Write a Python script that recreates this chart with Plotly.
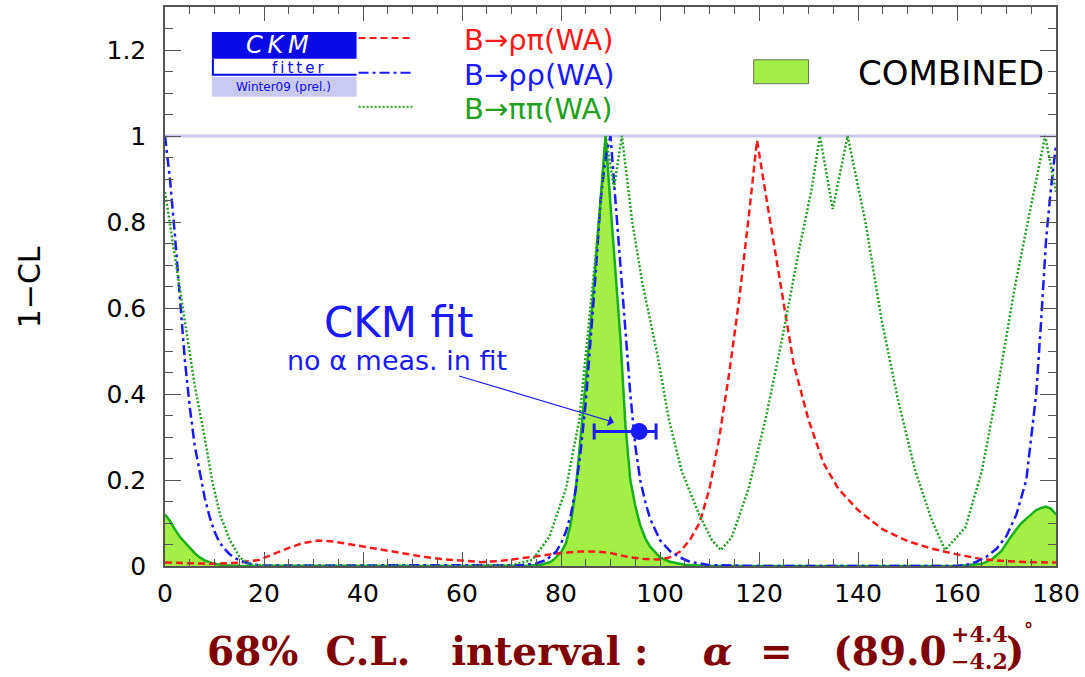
import plotly.graph_objects as go

# ---------------- data ----------------
# B -> rho pi (WA)
x_rhopi = [0, 5, 10, 15, 19, 22, 25, 28, 31, 34, 37, 40, 44, 48, 52, 56, 60, 64, 68, 72, 76, 80,
           84, 87, 90, 94, 97, 100, 102, 104, 106, 108, 110, 112, 114, 116, 118, 119.6, 121, 123,
           125, 127, 130, 133, 136, 140, 145, 150, 155, 160, 165, 170, 175, 180]
y_rhopi = [0.008, 0.006, 0.005, 0.008, 0.014, 0.028, 0.042, 0.054, 0.059, 0.057, 0.051, 0.045,
           0.037, 0.03, 0.022, 0.016, 0.012, 0.009, 0.012, 0.018, 0.025, 0.03, 0.034, 0.034, 0.03,
           0.02, 0.016, 0.015, 0.02, 0.033, 0.06, 0.1, 0.18, 0.3, 0.45, 0.62, 0.82, 0.99, 0.89,
           0.75, 0.6, 0.47, 0.34, 0.24, 0.18, 0.13, 0.085, 0.058, 0.04, 0.027, 0.016, 0.011, 0.009,
           0.008]

# B -> rho rho (WA)
x_rhorho = [0, 1, 2, 3, 4, 5, 6, 7, 8, 9, 10, 11, 12, 13, 14, 16, 18, 20, 70, 72, 75, 77, 79, 80,
            81, 82, 83, 84, 85, 86, 87, 88, 89, 90, 91, 92, 93, 94, 95, 96, 97, 98, 100, 102, 104,
            106, 110, 120, 160, 162, 164, 166, 168, 170, 172, 174, 175, 176, 177, 178, 179, 180]
y_rhorho = [1.0, 0.9, 0.77, 0.62, 0.48, 0.37, 0.28, 0.22, 0.16, 0.115, 0.08, 0.055, 0.04, 0.028,
            0.019, 0.009, 0.003, 0.001, 0.001, 0.002, 0.006, 0.014, 0.033, 0.052, 0.08, 0.12, 0.18,
            0.27, 0.38, 0.52, 0.68, 0.85, 0.95, 1.0, 0.85, 0.68, 0.53, 0.4, 0.28, 0.2, 0.15, 0.11,
            0.06, 0.035, 0.02, 0.01, 0.002, 0.0, 0.0, 0.003, 0.01, 0.022, 0.04, 0.07, 0.12, 0.2,
            0.3, 0.4, 0.57, 0.76, 0.88, 0.98]

# B -> pi pi (WA)
x_pipi = [0, 2, 4, 6, 8, 9.5, 11.1, 13.1, 15.1, 17, 20, 60, 70, 74.2, 77.6, 81, 83.7, 85.7, 87.1,
          88, 89, 90.7, 92.3, 94.4, 96.4, 99.5, 101.8, 104.4, 107.9, 110.5, 112.3, 114.5, 117.9,
          121.3, 124.7, 128, 130.7, 132.3, 134.9, 137.9, 141.5, 144.8, 148.2, 151.6, 154.9, 157.6,
          161.7, 165, 168.3, 171.7, 175, 177.8, 180]
y_pipi = [0.87, 0.72, 0.56, 0.42, 0.3, 0.2, 0.12, 0.06, 0.02, 0.004, 0.001, 0.0, 0.002, 0.014,
          0.067, 0.18, 0.34, 0.57, 0.73, 0.84, 1.0, 0.88, 1.0, 0.8, 0.66, 0.49, 0.34, 0.22, 0.12,
          0.06, 0.037, 0.067, 0.18, 0.34, 0.53, 0.73, 0.88, 1.0, 0.83, 1.0, 0.8, 0.57, 0.38, 0.22,
          0.107, 0.037, 0.09, 0.22, 0.42, 0.65, 0.84, 1.0, 0.87]

# COMBINED
x_comb = [0, 1, 2, 3, 4, 5, 6, 7, 8, 10, 12, 15, 20, 70, 73, 76, 78, 79, 80, 81, 82, 83, 84, 85,
          86, 87, 88, 89, 90, 91, 92, 93, 94, 95, 96, 97, 98, 100, 102, 105, 110, 160, 163, 165,
          167, 169, 171, 173, 175, 176, 177, 178, 179, 180]
y_comb = [0.12, 0.105, 0.085, 0.068, 0.055, 0.042, 0.03, 0.02, 0.013, 0.005, 0.002, 0.0005, 0.0,
          0.0, 0.0005, 0.003, 0.01, 0.02, 0.032, 0.053, 0.1, 0.18, 0.3, 0.43, 0.56, 0.7, 0.85, 1.0,
          0.84, 0.68, 0.53, 0.33, 0.2, 0.14, 0.095, 0.065, 0.045, 0.02, 0.01, 0.003, 0.0, 0.0,
          0.002, 0.005, 0.015, 0.035, 0.07, 0.1, 0.12, 0.13, 0.135, 0.138, 0.133, 0.12]

# CKM fit point (no alpha measurement in fit)
fit_x = [95.8]
fit_y = [0.313]
fit_err_minus = [9.1]
fit_err_plus = [3.4]

x_ticks = [0, 20, 40, 60, 80, 100, 120, 140, 160, 180]
y_ticks = [0, 0.2, 0.4, 0.6, 0.8, 1.0, 1.2]
y_ticklabels = ["0", "0.2", "0.4", "0.6", "0.8", "1", "1.2"]

legend_labels = ["B\u2192\u03c1\u03c0(WA)", "B\u2192\u03c1\u03c1(WA)", "B\u2192\u03c0\u03c0(WA)"]

# ---------------- styling ----------------
RED = "#ff1a1a"
BLUE = "#1a1aff"
GREEN_DOT = "#22a022"
GREEN_LINE = "#18b018"
FILL = "#a2f046"
LOGO_BLUE = "#0a0ae6"
LAVENDER = "#c9c9f2"
DARKRED = "#800000"
SANS = "DejaVu Sans"

L, R, T, B = 165, 27, 5, 111
W, H = 1085, 677
PW, PH = W - L - R, H - T - B


def PX(px):
    return (px - L) / PW


def PY(py):
    return (H - B - py) / PH


fig = go.Figure()

# unit line at 1
fig.add_trace(go.Scatter(x=[0, 180], y=[1, 1], mode="lines",
                         line=dict(color=LAVENDER, width=3), hoverinfo="skip", showlegend=False))

fig.add_trace(go.Scatter(x=x_comb, y=y_comb, mode="lines", fill="tozeroy", fillcolor=FILL,
                         line=dict(color=GREEN_LINE, width=2.5), showlegend=False))
fig.add_trace(go.Scatter(x=x_rhopi, y=y_rhopi, mode="lines",
                         line=dict(color=RED, width=2.5, dash="7px,4px"), showlegend=False))
fig.add_trace(go.Scatter(x=x_rhorho, y=y_rhorho, mode="lines",
                         line=dict(color=BLUE, width=2.5, dash="10px,4px,3px,4px"), showlegend=False))
fig.add_trace(go.Scatter(x=x_pipi, y=y_pipi, mode="lines",
                         line=dict(color=GREEN_DOT, width=2.5, dash="2px,2px"), showlegend=False))

fig.add_trace(go.Scatter(x=fit_x, y=fit_y, mode="markers",
                         marker=dict(color=BLUE, size=17, symbol="circle"),
                         error_x=dict(type="data", symmetric=False, array=fit_err_plus,
                                      arrayminus=fit_err_minus, color=BLUE, thickness=3, width=8),
                         showlegend=False))

shapes = []
annotations = []

# ---- CKMfitter logo ----
shapes.append(dict(type="rect", xref="paper", yref="paper", x0=PX(212), x1=PX(357),
                   y0=PY(57), y1=PY(30), fillcolor=LOGO_BLUE, line=dict(width=0)))
shapes.append(dict(type="rect", xref="paper", yref="paper", x0=PX(212), x1=PX(357),
                   y0=PY(95), y1=PY(75), fillcolor=LAVENDER, line=dict(width=0)))
shapes.append(dict(type="line", xref="paper", yref="paper", x0=PX(213), x1=PX(213),
                   y0=PY(73), y1=PY(57), line=dict(color=LOGO_BLUE, width=2)))
shapes.append(dict(type="line", xref="paper", yref="paper", x0=PX(212), x1=PX(357),
                   y0=PY(73), y1=PY(73), line=dict(color=LOGO_BLUE, width=2)))
annotations.append(dict(xref="paper", yref="paper", x=PX(278), y=PY(43),
                        text="<i>C\u2009K\u2009M</i>",
                        showarrow=False, xanchor="center", yanchor="middle",
                        font=dict(family=SANS, size=24, color="white")))
annotations.append(dict(xref="paper", yref="paper", x=PX(298), y=PY(66),
                        text="f\u2009i\u2009t\u2009t\u2009e\u2009r", showarrow=False,
                        xanchor="center", yanchor="middle",
                        font=dict(family=SANS, size=15, color=LOGO_BLUE)))
annotations.append(dict(xref="paper", yref="paper", x=PX(284), y=PY(85),
                        text="Winter09 (prel.)", showarrow=False, xanchor="center",
                        yanchor="middle", font=dict(family=SANS, size=12, color=LOGO_BLUE)))

# ---- legend ----
leg_rows = [(36, RED, "7px,4px"), (71, BLUE, "10px,4px,3px,4px"), (105, GREEN_DOT, "2px,2px")]
for (py, col, dsh), lab in zip(leg_rows, legend_labels):
    shapes.append(dict(type="line", xref="paper", yref="paper", x0=PX(359), x1=PX(413),
                       y0=PY(py), y1=PY(py), line=dict(color=col, width=2, dash=dsh)))
    annotations.append(dict(xref="paper", yref="paper", x=PX(463), y=PY(py + 2), text=lab,
                            showarrow=False, xanchor="left", yanchor="middle",
                            font=dict(family=SANS, size=29, color=col)))

shapes.append(dict(type="rect", xref="paper", yref="paper", x0=PX(755), x1=PX(810),
                   y0=PY(82), y1=PY(58), fillcolor=FILL, line=dict(color="#667755", width=1)))
annotations.append(dict(xref="paper", yref="paper", x=PX(858), y=PY(71), text="COMBINED",
                        showarrow=False, xanchor="left", yanchor="middle",
                        font=dict(family=SANS, size=34, color="black")))

# ---- CKM fit annotation ----
annotations.append(dict(xref="paper", yref="paper", x=PX(399), y=PY(322), text="CKM fit",
                        showarrow=False, xanchor="center", yanchor="middle",
                        font=dict(family=SANS, size=42, color=BLUE)))
annotations.append(dict(xref="paper", yref="paper", x=PX(398), y=PY(360),
                        text="no \u03b1 meas. in fit", showarrow=False, xanchor="center",
                        yanchor="middle", font=dict(family=SANS, size=27, color=BLUE)))
annotations.append(dict(xref="x", yref="y", x=90.7, y=0.334, ax=59.1, ay=0.443,
                        axref="x", ayref="y", text="", showarrow=True, arrowhead=1,
                        arrowsize=1.6, arrowwidth=1.2, arrowcolor=BLUE))

# ---- axis title ----
annotations.append(dict(xref="paper", yref="paper", x=PX(30), y=PY(286), text="1\u2212CL",
                        showarrow=False, textangle=-90, xanchor="center", yanchor="middle",
                        font=dict(family=SANS, size=30, color="black")))

# ---- bottom result text ----
SERIF = "DejaVu Serif"
NB = "\u00a0"
main_text = ("<b>68%" + NB * 2 + "C.L." + NB * 3 + "interval" + NB + ":" + NB * 4 +
             "<i>\u03b1</i>" + NB * 2 + "=" + NB * 3 + "(89.0</b>")
annotations.append(dict(xref="paper", yref="paper", x=PX(951), y=PY(651),
                        text=main_text,
                        showarrow=False, xanchor="right", yanchor="middle",
                        font=dict(family=SERIF, size=39, color=DARKRED)))
annotations.append(dict(xref="paper", yref="paper", x=PX(951), y=PY(634), text="<b>+4.4</b>",
                        showarrow=False, xanchor="left", yanchor="middle",
                        font=dict(family=SERIF, size=22, color=DARKRED)))
annotations.append(dict(xref="paper", yref="paper", x=PX(951), y=PY(661), text="<b>\u22124.2</b>",
                        showarrow=False, xanchor="left", yanchor="middle",
                        font=dict(family=SERIF, size=22, color=DARKRED)))
annotations.append(dict(xref="paper", yref="paper", x=PX(1006), y=PY(651), text="<b>)</b>",
                        showarrow=False, xanchor="left", yanchor="middle",
                        font=dict(family=SERIF, size=39, color=DARKRED)))
annotations.append(dict(xref="paper", yref="paper", x=PX(1024), y=PY(630), text="<b>\u00b0</b>",
                        showarrow=False, xanchor="left", yanchor="middle",
                        font=dict(family=SERIF, size=18, color=DARKRED)))

axis_common = dict(showline=True, mirror="ticks", linecolor="#555555", linewidth=1.5,
                   ticks="inside", tickcolor="#555555", tickwidth=1.2, showgrid=False,
                   zeroline=False, tickfont=dict(family=SANS, size=25, color="black"))

fig.update_layout(
    width=W, height=H, autosize=False,
    margin=dict(l=L, r=R, t=T, b=B),
    paper_bgcolor="white", plot_bgcolor="white",
    showlegend=False,
    xaxis=dict(range=[0, 180], tickvals=x_ticks, ticklen=14,
               minor=dict(dtick=5, tick0=0, ticklen=7, ticks="inside", tickcolor="#555555",
                          showgrid=False),
               ticklabelstandoff=4, **axis_common),
    yaxis=dict(range=[0, 1.3], tickvals=y_ticks, ticktext=y_ticklabels, ticklen=16,
               minor=dict(dtick=0.05, tick0=0, ticklen=8, ticks="inside", tickcolor="#555555",
                          showgrid=False),
               ticklabelstandoff=12, **axis_common),
    shapes=shapes,
    annotations=annotations,
)

fig.write_html("out.html")
